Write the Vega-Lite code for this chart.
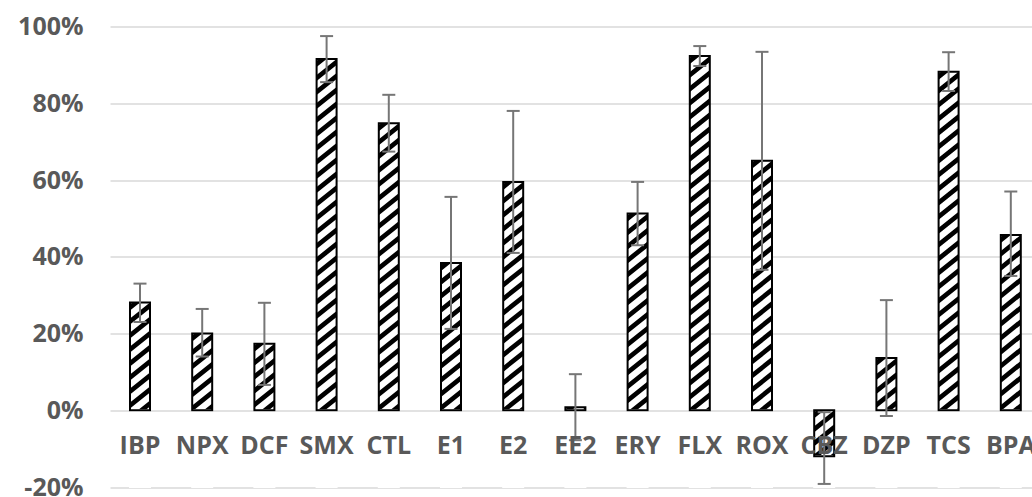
{
  "$schema": "https://vega.github.io/schema/vega-lite/v6.json",
  "width": 922,
  "height": 460.5,
  "autosize": {"type": "none"},
  "padding": {"left": 110, "top": 26.5, "right": 0, "bottom": 10},
  "background": "white",
  "config": {"view": {"stroke": null}, "font": "Open Sans"},
  "data": {
    "values": [
      {"c": "IBP", "v": 28.1, "lo": 23.0, "hi": 33.0},
      {"c": "NPX", "v": 20.0, "lo": 14.0, "hi": 26.4},
      {"c": "DCF", "v": 17.3, "lo": 6.6, "hi": 28.0},
      {"c": "SMX", "v": 91.5, "lo": 85.5, "hi": 97.5},
      {"c": "CTL", "v": 74.8, "lo": 67.4, "hi": 82.2},
      {"c": "E1", "v": 38.4, "lo": 21.2, "hi": 55.6},
      {"c": "E2", "v": 59.5, "lo": 41.0, "hi": 78.0},
      {"c": "EE2", "v": 0.8, "lo": -7.8, "hi": 9.4},
      {"c": "ERY", "v": 51.3, "lo": 43.0, "hi": 59.5},
      {"c": "FLX", "v": 92.3, "lo": 89.7, "hi": 94.9},
      {"c": "ROX", "v": 65.0, "lo": 36.6, "hi": 93.4},
      {"c": "CBZ", "v": -12.0, "lo": -19.2, "hi": -0.5},
      {"c": "DZP", "v": 13.6, "lo": -1.5, "hi": 28.7},
      {"c": "TCS", "v": 88.2, "lo": 83.2, "hi": 93.3},
      {"c": "BPA", "v": 45.7, "lo": 35.0, "hi": 57.0}
    ]
  },
  "encoding": {
    "x": {
      "field": "c",
      "type": "nominal",
      "sort": null,
      "scale": {"paddingInner": 0.6785, "paddingOuter": 0.2508, "align": 0.641, "round": false},
      "axis": {
        "title": null,
        "orient": "bottom",
        "offset": -76.75,
        "domain": false,
        "ticks": false,
        "grid": false,
        "labelAngle": 0,
        "labelPadding": 23,
        "labelFont": "Open Sans",
        "labelFontSize": 25,
        "labelFontWeight": "bold",
        "labelColor": "#595959",
        "labelOverlap": false,
        "zindex": 1
      }
    }
  },
  "layer": [
    {
      "mark": {"type": "bar", "fill": "white", "strokeWidth": 0},
      "encoding": {
        "y": {
          "field": "v",
          "type": "quantitative",
          "scale": {"domain": [-20, 100], "nice": false, "zero": false},
          "axis": {
            "title": null,
            "values": [-20, 0, 20, 40, 60, 80, 100],
            "labelExpr": "datum.value + '%'",
            "grid": true,
            "gridColor": "#d9d9d9",
            "gridWidth": 1.5,
            "domain": false,
            "ticks": false,
            "labelPadding": 27,
            "labelFont": "Open Sans",
            "labelFontSize": 25,
            "labelFontWeight": "bold",
            "labelColor": "#595959",
            "zindex": 0
          }
        },
        "y2": {"datum": 0}
      }
    },
    {
      "transform": [{"filter": "datum.v >= 0"}],
      "mark": {
        "type": "point",
        "clip": true,
        "filled": true,
        "fill": "#000000",
        "strokeWidth": 0,
        "opacity": 1,
        "size": 4,
        "shape": "M-10,2L-7.5,0L0,0L-10,8ZM-10,16L10,0L10,6L-10,22ZM-10,30L10,14L10,20L-10,36ZM-10,44L10,28L10,34L-10,50ZM-10,58L10,42L10,48L-10,64ZM-10,72L10,56L10,62L-10,78ZM-10,86L10,70L10,76L-10,92ZM-10,100L10,84L10,90L-10,106ZM-10,114L10,98L10,104L-10,120ZM-10,128L10,112L10,118L-10,134ZM-10,142L10,126L10,132L-10,148ZM-10,156L10,140L10,146L-10,162ZM-10,170L10,154L10,160L-10,176ZM-10,184L10,168L10,174L-10,190ZM-10,198L10,182L10,188L-10,204ZM-10,212L10,196L10,202L-10,218ZM-10,226L10,210L10,216L-10,232ZM-10,240L10,224L10,230L-10,246ZM-10,254L10,238L10,244L-10,260ZM-10,268L10,252L10,258L-10,274ZM-10,282L10,266L10,272L-10,288ZM-10,296L10,280L10,286L-10,302ZM-10,310L10,294L10,300L-10,316ZM-10,324L10,308L10,314L-10,330ZM-10,338L10,322L10,328L-10,344ZM-10,352L10,336L10,342L-10,358ZM-10,366L10,350L10,356L-10,372ZM-10,380L10,364L10,370L-10,386Z"
      },
      "encoding": {"y": {"field": "v", "type": "quantitative"}}
    },
    {
      "transform": [{"filter": "datum.v < 0"}],
      "mark": {
        "type": "point",
        "clip": true,
        "filled": true,
        "fill": "#000000",
        "strokeWidth": 0,
        "opacity": 1,
        "size": 4,
        "shape": "M-10,2L-7.5,0L0,0L-10,8ZM-10,16L10,0L10,6L-10,22ZM-10,30L10,14L10,20L-10,36ZM-10,44L10,28L10,34L-10,50ZM-10,58L10,42L10,48L-10,64ZM-10,72L10,56L10,62L-10,78ZM-10,86L10,70L10,76L-10,92ZM-10,100L10,84L10,90L-10,106Z"
      },
      "encoding": {"y": {"datum": 0}}
    },
    {
      "transform": [{"filter": "datum.v >= 0"}],
      "mark": {"type": "bar", "fill": "white", "stroke": "white", "strokeWidth": 2},
      "encoding": {"y": {"datum": 0}, "y2": {"datum": -20}}
    },
    {
      "transform": [{"filter": "datum.v < 0"}],
      "mark": {"type": "bar", "fill": "white", "stroke": "white", "strokeWidth": 2},
      "encoding": {"y": {"field": "v", "type": "quantitative"}, "y2": {"datum": -20}}
    },
    {
      "mark": {"type": "bar", "fill": "white", "fillOpacity": 0, "stroke": "#000000", "strokeWidth": 2},
      "encoding": {"y": {"field": "v", "type": "quantitative"}, "y2": {"datum": 0}}
    },
    {
      "mark": {"type": "rule", "color": "#767676", "strokeWidth": 2},
      "encoding": {"y": {"field": "lo", "type": "quantitative"}, "y2": {"field": "hi"}}
    },
    {
      "mark": {"type": "tick", "color": "#767676", "thickness": 2, "size": 13, "opacity": 1},
      "encoding": {"y": {"field": "hi", "type": "quantitative"}}
    },
    {
      "mark": {"type": "tick", "color": "#767676", "thickness": 2, "size": 13, "opacity": 1},
      "encoding": {"y": {"field": "lo", "type": "quantitative"}}
    }
  ]
}
